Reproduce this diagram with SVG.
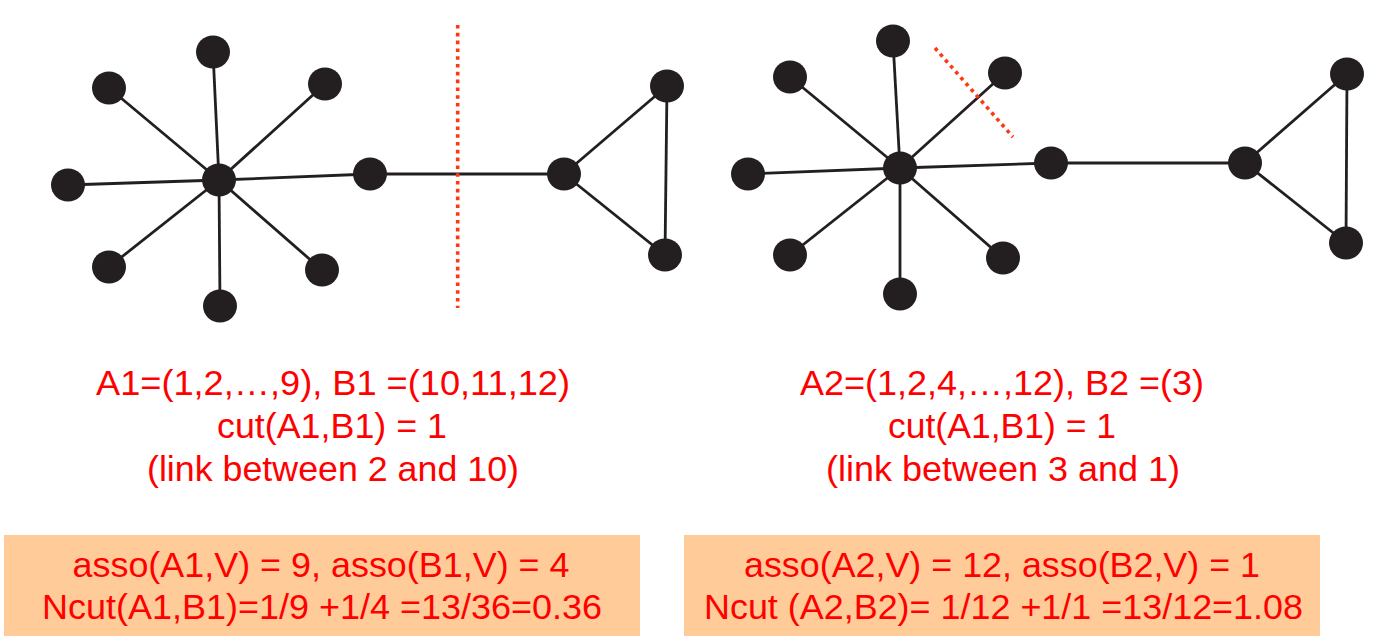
<svg xmlns="http://www.w3.org/2000/svg" width="1375" height="644" viewBox="0 0 1375 644">
<style>
.e{stroke:#231F20;stroke-width:2.8;fill:none}
.n{fill:#231F20}
.cut{stroke:#FF3811;stroke-width:3.6;stroke-dasharray:3.6 4.2;fill:none}
.t{font-family:"Liberation Sans",Arial,sans-serif;font-size:34.5px;fill:#FF0000;text-anchor:middle}
.box{fill:#FFCC99}
</style>
<rect width="1375" height="644" fill="#FFFFFF"/>
<g id="connectors">
<line class="e" x1="219" y1="180" x2="213" y2="52"/>
<line class="e" x1="219" y1="180" x2="109" y2="88"/>
<line class="e" x1="219" y1="180" x2="325" y2="84"/>
<line class="e" x1="219" y1="180" x2="68" y2="185"/>
<line class="e" x1="219" y1="180" x2="109" y2="267"/>
<line class="e" x1="219" y1="180" x2="220" y2="306"/>
<line class="e" x1="219" y1="180" x2="322" y2="270"/>
<line class="e" x1="219" y1="180" x2="370" y2="174"/>
<line class="e" x1="370" y1="174" x2="564" y2="174"/>
<line class="e" x1="564" y1="174" x2="667" y2="86"/>
<line class="e" x1="564" y1="174" x2="665" y2="255"/>
<line class="e" x1="667" y1="86" x2="665" y2="255"/>
<line class="e" x1="900" y1="168" x2="893" y2="41"/>
<line class="e" x1="900" y1="168" x2="790" y2="77"/>
<line class="e" x1="900" y1="168" x2="1005" y2="73"/>
<line class="e" x1="900" y1="168" x2="748" y2="174"/>
<line class="e" x1="900" y1="168" x2="790" y2="255"/>
<line class="e" x1="900" y1="168" x2="900" y2="294"/>
<line class="e" x1="900" y1="168" x2="1003" y2="258"/>
<line class="e" x1="900" y1="168" x2="1051" y2="163"/>
<line class="e" x1="1051" y1="163" x2="1245" y2="163"/>
<line class="e" x1="1245" y1="163" x2="1347" y2="74"/>
<line class="e" x1="1245" y1="163" x2="1346" y2="243"/>
<line class="e" x1="1347" y1="74" x2="1346" y2="243"/>
</g>
<g id="cuts">
<line class="cut" x1="457.7" y1="25" x2="457.7" y2="308"/>
<line class="cut" x1="935" y1="48" x2="1013" y2="137"/>
</g>
<g id="graph1">
<g id="g1-center"><ellipse class="n" cx="219" cy="180" rx="17" ry="16.5"/></g>
<g id="g1-top"><ellipse class="n" cx="213" cy="52" rx="17" ry="16.5"/></g>
<g id="g1-ul"><ellipse class="n" cx="109" cy="88" rx="17" ry="16.5"/></g>
<g id="g1-ur"><ellipse class="n" cx="325" cy="84" rx="17" ry="16.5"/></g>
<g id="g1-left"><ellipse class="n" cx="68" cy="185" rx="17" ry="16.5"/></g>
<g id="g1-ll"><ellipse class="n" cx="109" cy="267" rx="17" ry="16.5"/></g>
<g id="g1-bottom"><ellipse class="n" cx="220" cy="306" rx="17" ry="16.5"/></g>
<g id="g1-lr"><ellipse class="n" cx="322" cy="270" rx="17" ry="16.5"/></g>
<g id="g1-n10"><ellipse class="n" cx="370" cy="174" rx="17" ry="16.5"/></g>
<g id="g1-n11"><ellipse class="n" cx="564" cy="174" rx="17" ry="16.5"/></g>
<g id="g1-n12"><ellipse class="n" cx="667" cy="86" rx="17" ry="16.5"/></g>
<g id="g1-n13"><ellipse class="n" cx="665" cy="255" rx="17" ry="16.5"/></g>
</g>
<g id="graph2">
<g id="g2-center"><ellipse class="n" cx="900" cy="168" rx="17" ry="16.5"/></g>
<g id="g2-top"><ellipse class="n" cx="893" cy="41" rx="17" ry="16.5"/></g>
<g id="g2-ul"><ellipse class="n" cx="790" cy="77" rx="17" ry="16.5"/></g>
<g id="g2-ur"><ellipse class="n" cx="1005" cy="73" rx="17" ry="16.5"/></g>
<g id="g2-left"><ellipse class="n" cx="748" cy="174" rx="17" ry="16.5"/></g>
<g id="g2-ll"><ellipse class="n" cx="790" cy="255" rx="17" ry="16.5"/></g>
<g id="g2-bottom"><ellipse class="n" cx="900" cy="294" rx="17" ry="16.5"/></g>
<g id="g2-lr"><ellipse class="n" cx="1003" cy="258" rx="17" ry="16.5"/></g>
<g id="g2-n10"><ellipse class="n" cx="1051" cy="163" rx="17" ry="16.5"/></g>
<g id="g2-n11"><ellipse class="n" cx="1245" cy="163" rx="17" ry="16.5"/></g>
<g id="g2-n12"><ellipse class="n" cx="1347" cy="74" rx="17" ry="16.5"/></g>
<g id="g2-n13"><ellipse class="n" cx="1346" cy="243" rx="17" ry="16.5"/></g>
</g>
<g id="text1">
<text class="t" x="333" y="395" textLength="474" lengthAdjust="spacingAndGlyphs">A1=(1,2,…,9), B1 =(10,11,12)</text>
<text class="t" x="332" y="438" textLength="230" lengthAdjust="spacingAndGlyphs">cut(A1,B1) = 1</text>
<text class="t" x="333" y="481" textLength="372" lengthAdjust="spacingAndGlyphs">(link between 2 and 10)</text>
</g>
<g id="text2">
<text class="t" x="1002" y="395" textLength="404" lengthAdjust="spacingAndGlyphs">A2=(1,2,4,…,12), B2 =(3)</text>
<text class="t" x="1002" y="438" textLength="228" lengthAdjust="spacingAndGlyphs">cut(A1,B1) = 1</text>
<text class="t" x="1003" y="481" textLength="354" lengthAdjust="spacingAndGlyphs">(link between 3 and 1)</text>
</g>
<g id="box1">
<rect class="box" x="4" y="535" width="636" height="101"/>
<text class="t" x="321" y="577" textLength="497" lengthAdjust="spacingAndGlyphs">asso(A1,V) = 9, asso(B1,V) = 4</text>
<text class="t" x="322" y="619" textLength="560" lengthAdjust="spacingAndGlyphs">Ncut(A1,B1)=1/9 +1/4 =13/36=0.36</text>
</g>
<g id="box2">
<rect class="box" x="684" y="535" width="636" height="101"/>
<text class="t" x="1002" y="577" textLength="516" lengthAdjust="spacingAndGlyphs">asso(A2,V) = 12, asso(B2,V) = 1</text>
<text class="t" x="1003.5" y="619" textLength="599" lengthAdjust="spacingAndGlyphs">Ncut (A2,B2)= 1/12 +1/1 =13/12=1.08</text>
</g>
</svg>
